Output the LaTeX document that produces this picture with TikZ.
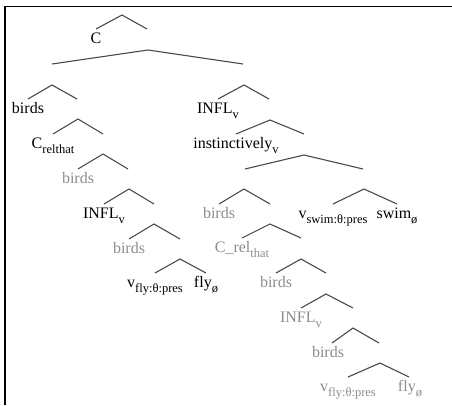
\documentclass[tikz,border=0pt]{standalone}
\usepackage{fontspec}
\setmainfont{Liberation Serif}
\definecolor{copygrey}{HTML}{8C8C8C}
\definecolor{linegrey}{HTML}{4A4A4A}
\newcommand{\lo}[1]{\raisebox{-5.5pt}{\fontsize{12.5}{14}\selectfont #1}}

\begin{document}
\begin{tikzpicture}[x=1pt,y=-1pt]

\tikzset{lbl/.style = {anchor=base, inner sep=0pt, font=\fontsize{16}{19}\selectfont}}
\tikzset{copy/.style = {lbl, text=copygrey}}
\tikzset{branch/.style = {draw=linegrey, line width=1.1pt}}

\useasboundingbox (0,0) rectangle (452,405);
% cell border
\draw[line width=1.8pt] (452,6.5) -- (5,6.5) -- (5,405);

% apexes, left spine
\coordinate (r0) at (122,15);
\coordinate (r1) at (148,50);
\coordinate (l1) at (52,85);
\coordinate (l2) at (78,119);
\coordinate (l3) at (103,154);
\coordinate (l4) at (129,189);
\coordinate (l5) at (154,224);
\coordinate (l6) at (180,259);
% apexes, right spine
\coordinate (m1) at (244,85);
\coordinate (m2) at (270,120);
\coordinate (m3) at (304,155);
\coordinate (m4) at (244,189);
\coordinate (m5) at (364,189);
\coordinate (m6) at (270,224);
\coordinate (m7) at (301,259);
\coordinate (m8) at (326,294);
\coordinate (m9) at (353,328);
\coordinate (m10) at (380,363);

% labels
\node[lbl] (c) at (96,43) {C};
\node[lbl] (birdsA) at (28,113) {birds};
\node[lbl] (crel) at (53,148) {C\lo{relthat}};
\node[copy] (birdsB) at (78,183) {birds};
\node[lbl] (inflA) at (104,218) {INFL\lo{v}};
\node[copy] (birdsC) at (129,253) {birds};
\node[lbl] (vflyA) at (155,287) {v\lo{fly:θ:pres}};
\node[lbl] (flyA) at (206,287) {fly\lo{ø}};
\node[lbl] (inflB) at (218,113) {INFL\lo{v}};
\node[lbl] (instinct) at (236,148) {instinctively\lo{v}};
\node[copy] (birdsD) at (219,218) {birds};
\node[lbl] (vswim) at (333,218) {v\lo{swim:θ:pres}};
\node[lbl] (swim) at (397,218) {swim\lo{ø}};
\node[copy] (crelB) at (242,252) {C\_rel\lo{that}};
\node[copy] (birdsE) at (276,287) {birds};
\node[copy] (inflC) at (301,322) {INFL\lo{v}};
\node[copy] (birdsF) at (328,357) {birds};
\node[copy] (vflyB) at (348,391) {v\lo{fly:θ:pres}};
\node[copy] (flyB) at (410,391) {fly\lo{ø}};

% branches
\draw[branch] (r0) +(-26,14) -- (r0) -- +(25,14);
\draw[branch] (r1) +(-96,14) -- (r1) -- +(95,14);
\draw[branch] (l1) +(-24,14) -- (l1) -- +(25,14);
\draw[branch] (l2) +(-25,15) -- (l2) -- +(25,15);
\draw[branch] (l3) +(-25,15) -- (l3) -- +(25,15);
\draw[branch] (l4) +(-25,15) -- (l4) -- +(25,15);
\draw[branch] (l5) +(-25,15) -- (l5) -- +(26,15);
\draw[branch] (l6) +(-25,14) -- (l6) -- +(26,14);
\draw[branch] (m1) +(-26,14) -- (m1) -- +(25,14);
\draw[branch] (m2) +(-34,14) -- (m2) -- +(34,14);
\draw[branch] (m3) +(-59,14) -- (m3) -- +(59,14);
\draw[branch] (m4) +(-25,15) -- (m4) -- +(26,15);
\draw[branch] (m5) +(-31,15) -- (m5) -- +(33,15);
\draw[branch] (m6) +(-28,14) -- (m6) -- +(31,14);
\draw[branch] (m7) +(-25,14) -- (m7) -- +(25,14);
\draw[branch] (m8) +(-25,14) -- (m8) -- +(27,14);
\draw[branch] (m9) +(-21,15) -- (m9) -- +(26,15);
\draw[branch] (m10) +(-32,14) -- (m10) -- +(29,14);

\end{tikzpicture}
\end{document}
